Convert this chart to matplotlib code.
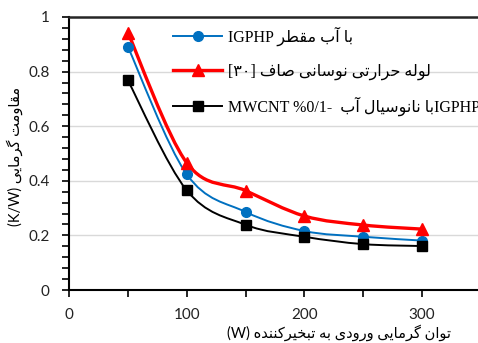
import numpy as np
import matplotlib
matplotlib.use("Agg")
import matplotlib.pyplot as plt
from matplotlib.path import Path
from matplotlib.patches import PathPatch
from matplotlib.lines import Line2D
from matplotlib.ticker import MultipleLocator

# --- data ---
power = [50, 100, 150, 200, 250, 300]
r_water = [0.891, 0.424, 0.286, 0.216, 0.195, 0.181]
r_plain = [0.943, 0.466, 0.364, 0.271, 0.238, 0.223]
r_nano = [0.768, 0.365, 0.239, 0.195, 0.168, 0.161]

x_ticks = [0, 100, 200, 300]
y_ticks = [0, 0.2, 0.4, 0.6, 0.8, 1.0]
y_tick_labels = ["0", "0.2", "0.4", "0.6", "0.8", "1"]

# simple persian shaping (matplotlib has no bidi / joining)
FORMS = {
    "ا": ("\uFE8D", "\uFE8E"), "آ": ("\uFE81", "\uFE82"),
    "د": ("\uFEA9", "\uFEAA"), "ر": ("\uFEAD", "\uFEAE"),
    "و": ("\uFEED", "\uFEEE"),
    "ب": ("\uFE8F", "\uFE90", "\uFE91", "\uFE92"),
    "ت": ("\uFE95", "\uFE96", "\uFE97", "\uFE98"),
    "ح": ("\uFEA1", "\uFEA2", "\uFEA3", "\uFEA4"),
    "خ": ("\uFEA5", "\uFEA6", "\uFEA7", "\uFEA8"),
    "س": ("\uFEB1", "\uFEB2", "\uFEB3", "\uFEB4"),
    "ص": ("\uFEB9", "\uFEBA", "\uFEBB", "\uFEBC"),
    "ط": ("\uFEC1", "\uFEC2", "\uFEC3", "\uFEC4"),
    "ف": ("\uFED1", "\uFED2", "\uFED3", "\uFED4"),
    "ق": ("\uFED5", "\uFED6", "\uFED7", "\uFED8"),
    "\u06A9": ("\uFB8E", "\uFB8F", "\uFB90", "\uFB91"),
    "\u0643": ("\uFB8E", "\uFB8F", "\uFB90", "\uFB91"),
    "گ": ("\uFB92", "\uFB93", "\uFB94", "\uFB95"),
    "ل": ("\uFEDD", "\uFEDE", "\uFEDF", "\uFEE0"),
    "م": ("\uFEE1", "\uFEE2", "\uFEE3", "\uFEE4"),
    "ن": ("\uFEE5", "\uFEE6", "\uFEE7", "\uFEE8"),
    "ه": ("\uFEE9", "\uFEEA", "\uFEEB", "\uFEEC"),
    "\u06CC": ("\uFBFC", "\uFBFD", "\uFBFE", "\uFBFF"),
    "\u064A": ("\uFBFC", "\uFBFD", "\uFBFE", "\uFBFF"),
}


def fa(text):
    out = []
    for i, ch in enumerate(text):
        if ch not in FORMS:
            out.append(ch)
            continue
        prev = text[i - 1] if i > 0 else ""
        nxt = text[i + 1] if i + 1 < len(text) else ""
        j_prev = prev in FORMS and len(FORMS[prev]) == 4
        j_next = len(FORMS[ch]) == 4 and nxt in FORMS
        f = FORMS[ch]
        if j_prev and j_next:
            out.append(f[3])
        elif j_prev:
            out.append(f[1])
        elif j_next:
            out.append(f[2])
        else:
            out.append(f[0])
    return "".join(out[::-1])


labels = [
    "IGPHP " + fa("با آب مقطر"),
    "[۳۰] " + fa("لوله حرارتی نوسانی صاف"),
    "MWCNT %0/1-  " + fa("با نانوسیال آب") + "IGPHP",
]
x_title = "(W) " + fa("توان گرمایی ورودی به تبخیرکننده")
y_title = "(K/W) " + fa("مقاومت گرمایی")


def smooth_path(xs, ys):
    # excel-like smoothed line: catmull-rom as cubic bezier
    pts = np.column_stack([xs, ys]).astype(float)
    verts = [pts[0]]
    codes = [Path.MOVETO]
    n = len(pts)
    for i in range(n - 1):
        p0 = pts[max(i - 1, 0)]
        p1 = pts[i]
        p2 = pts[i + 1]
        p3 = pts[min(i + 2, n - 1)]
        c1 = p1 + (p2 - p0) / 6.0
        c2 = p2 - (p3 - p1) / 6.0
        verts += [c1, c2, p2]
        codes += [Path.CURVE4] * 3
    return Path(verts, codes)


fig = plt.figure(figsize=(4.78, 3.43), dpi=100)
ax = fig.add_axes([69 / 478, 53 / 343, 412 / 478, 273 / 343])

series = [
    (r_water, "#0070C0", "o", 1.4, 7),
    (r_plain, "#FF0000", "^", 2.4, 9),
    (r_nano, "#000000", "s", 1.4, 7),
]
handles = []
for ys, col, mk, lw, ms in series:
    ax.add_patch(PathPatch(smooth_path(power, ys), facecolor="none",
                           edgecolor=col, lw=lw, zorder=3))
    ax.plot(power, ys, ls="none", marker=mk, color=col, ms=ms, zorder=4)
    handles.append(Line2D([], [], color=col, lw=lw, marker=mk, ms=ms))

ax.set_xlim(0, 350)
ax.set_ylim(0, 1)
ax.set_xticks(x_ticks)
ax.xaxis.set_minor_locator(MultipleLocator(50))
ax.set_yticks(y_ticks)
ax.set_yticklabels(y_tick_labels)
ax.yaxis.set_minor_locator(MultipleLocator(0.04))
ax.grid(axis="y", color="#D9D9D9", lw=1.0, zorder=0)
ax.set_axisbelow(True)

ax.spines["right"].set_visible(False)
ax.spines["left"].set_linewidth(1.5)
ax.spines["bottom"].set_linewidth(1.5)
ax.spines["top"].set_linewidth(1.8)
ax.spines["top"].set_color("#262626")

ax.tick_params(which="both", direction="out", length=5, width=1.2, color="black")
ax.tick_params(axis="y", which="major", pad=9)
ax.tick_params(axis="x", which="major", pad=8)
for lab in ax.get_xticklabels() + ax.get_yticklabels():
    lab.set_family(["Lato", "DejaVu Sans"])
    lab.set_fontsize(11)
    lab.set_color("#222222")

ax.set_xlabel(x_title, family=["Lato", "DejaVu Sans"], fontsize=10.5)
ax.xaxis.set_label_coords(0.655, -0.125)
ax.set_ylabel(y_title, family=["Lato", "DejaVu Sans"], fontsize=10.5)
ax.yaxis.set_label_coords(-0.112, 0.49)

ax.legend(handles, labels, loc="upper left", bbox_to_anchor=(0.252, 0.965),
          frameon=False, borderpad=0, borderaxespad=0, handlelength=3.1,
          handletextpad=0.35, labelspacing=1.08,
          prop={"family": ["Liberation Serif", "DejaVu Sans"], "size": 11.5})

fig.savefig("out.png", dpi=100)
